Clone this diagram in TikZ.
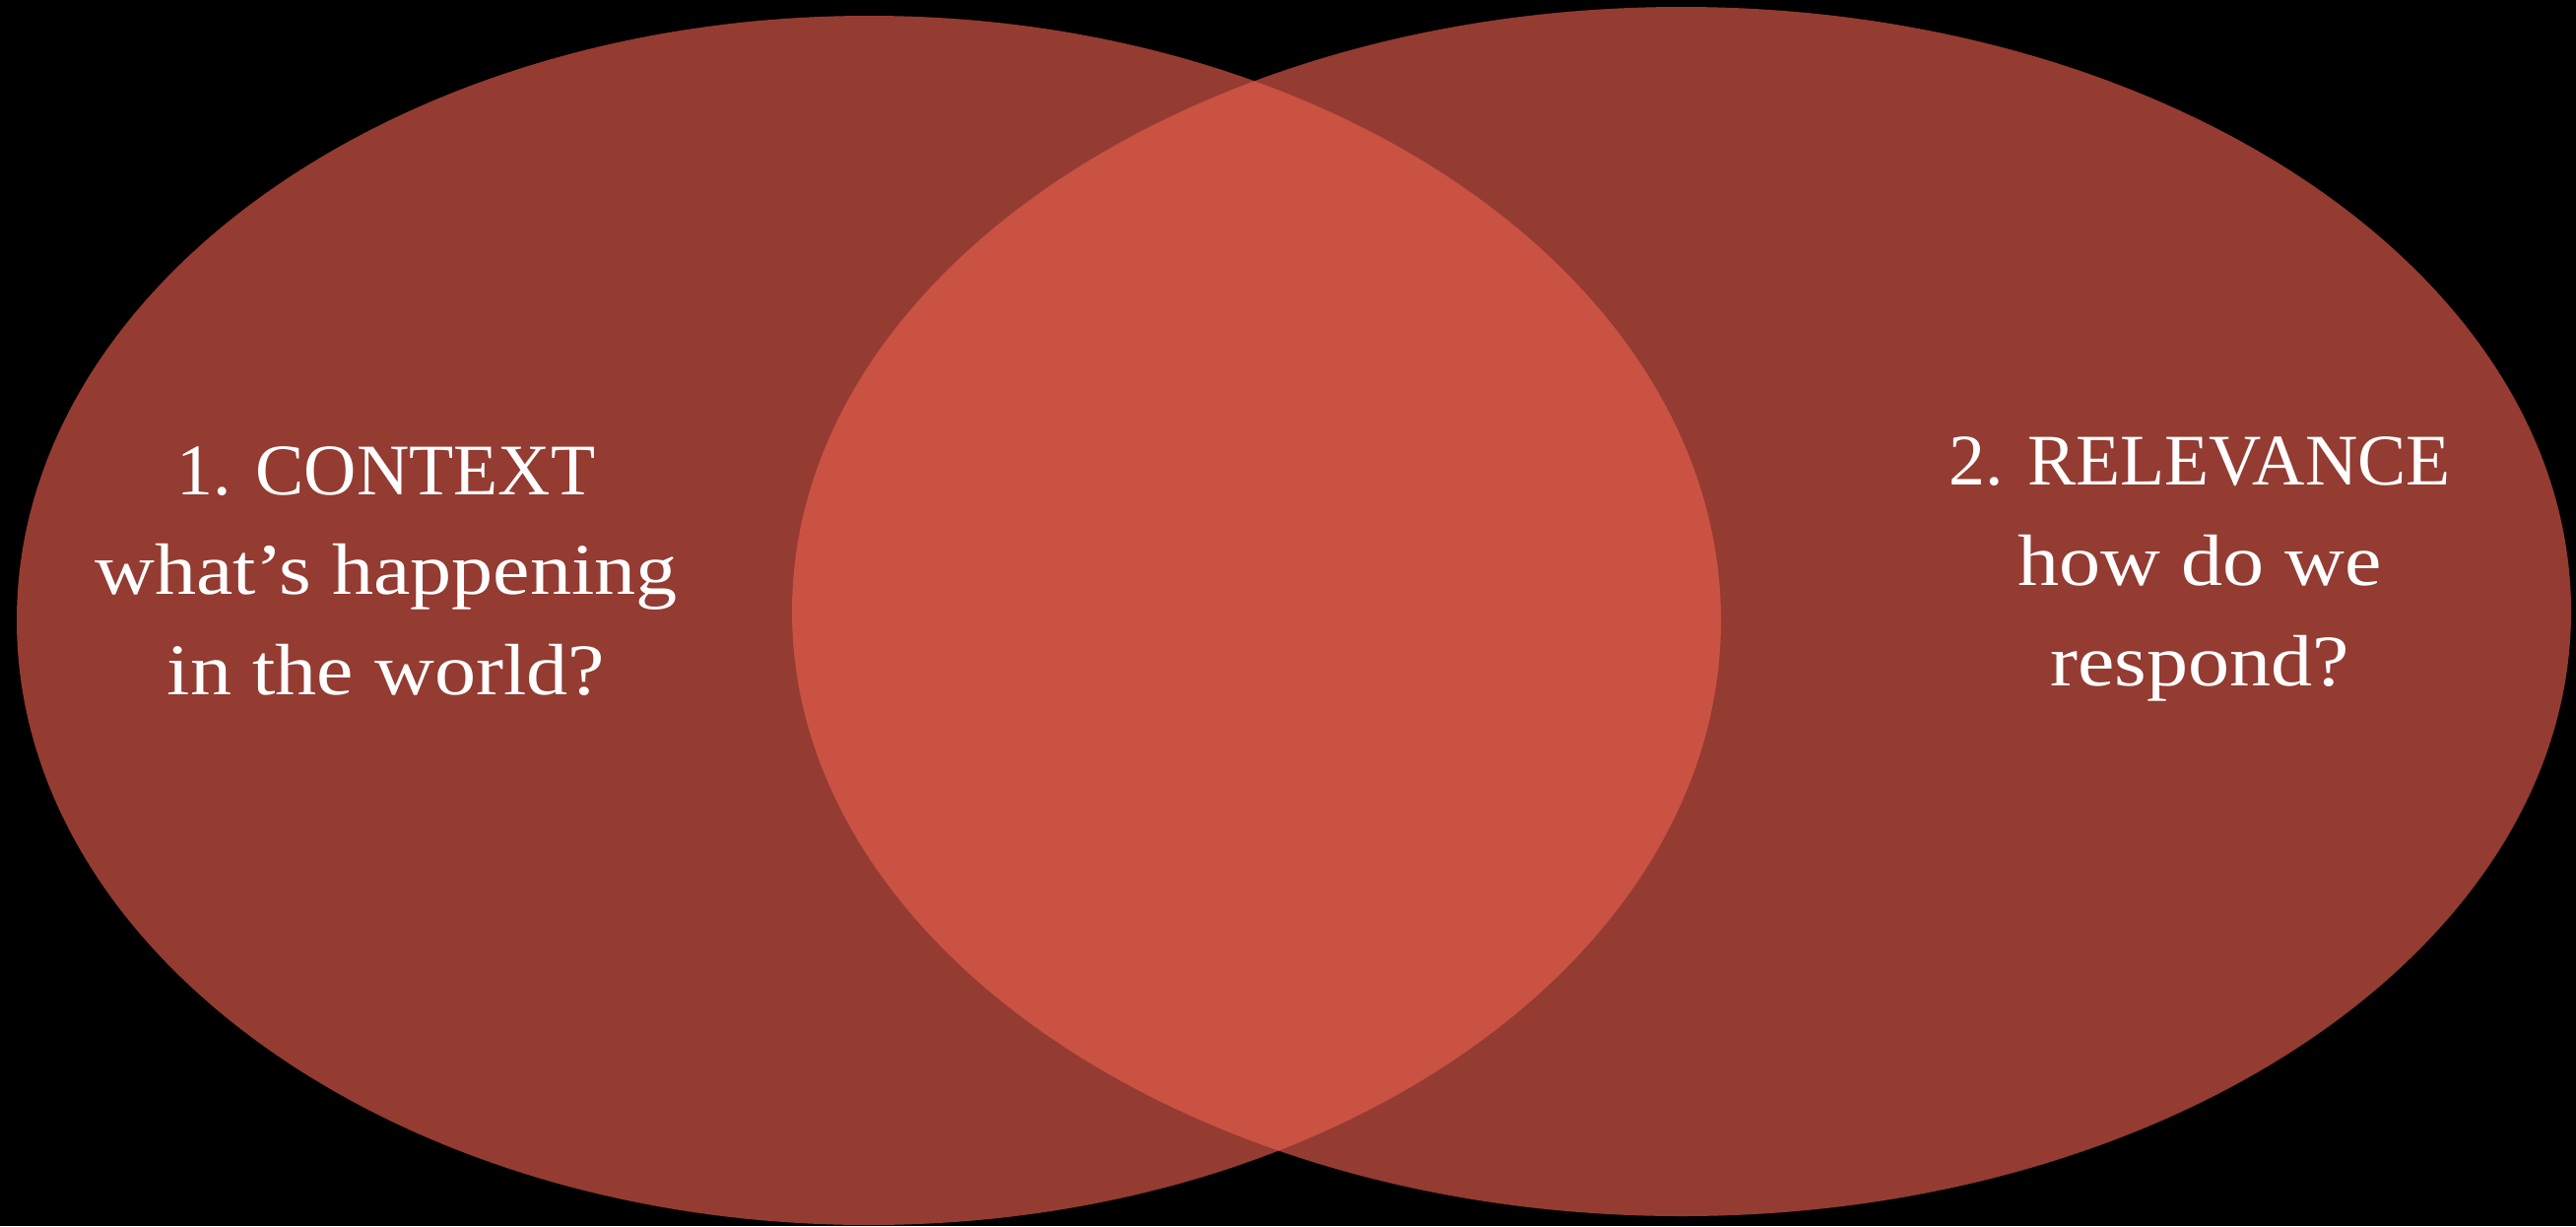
\documentclass[tikz,border=0pt]{standalone}
\usepackage{fontspec}
\setmainfont{Liberation Serif}
\newfontfamily\widefont[FakeStretch=1.14]{Liberation Serif}
\definecolor{vdark}{RGB}{148,59,50}
\definecolor{vlap}{RGB}{201,82,66}
\begin{document}
\begin{tikzpicture}[x=0.01cm,y=-0.01cm,
  lbl/.style={text=white,align=center,inner sep=0pt,
    font=\fontsize{21pt}{28.9pt}\selectfont}]
\useasboundingbox (0,0) rectangle (2615,1245);
\fill[black] (0,0) rectangle (2615,1245);
\fill[vdark] (882,630) ellipse [x radius=865, y radius=614];
\fill[vdark] (1707,621) ellipse [x radius=903, y radius=614];
\begin{scope}
  \clip (882,630) ellipse [x radius=865, y radius=614];
  \fill[vlap] (1707,621) ellipse [x radius=903, y radius=614];
\end{scope}
\node[lbl] (ctx) at (392,580) {1. CONTEXT\\{\widefont what’s happening}\\{\widefont in the world?}};
\node[lbl] (rel) at (2233,578) {2. RELEVANCE\\{\widefont how do we}\\{\widefont respond?}};
\end{tikzpicture}
\end{document}
